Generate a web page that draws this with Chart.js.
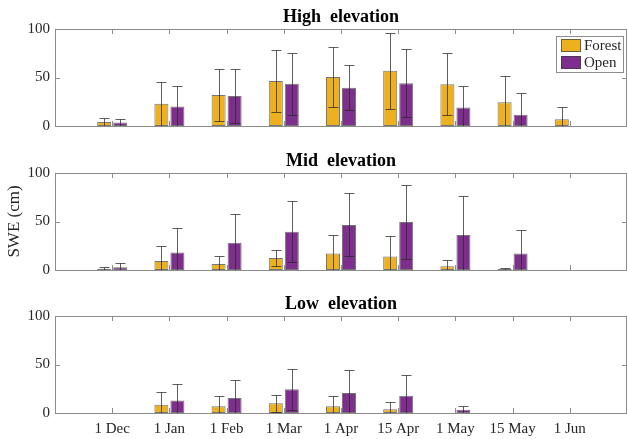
<!DOCTYPE html>
<html>
<head>
<meta charset="utf-8">
<script src="https://cdn.jsdelivr.net/npm/chart.js@4.4.0/dist/chart.umd.min.js"></script>
<style>
  body { margin: 0; background: #fff; overflow: hidden; }
  .panel { position: absolute; left: 0; width: 627px; }
</style>
</head>
<body>
<div class="panel" style="top:0;height:136px"><canvas id="high"></canvas></div>
<div class="panel" style="top:144px;height:136px"><canvas id="mid"></canvas></div>
<div class="panel" style="top:287px;height:152px"><canvas id="low"></canvas></div>

<script>
// survey dates
const dates = ["1 Dec", "1 Jan", "1 Feb", "1 Mar", "1 Apr", "15 Apr", "1 May", "15 May", "1 Jun"];
const yTicks = [0, 50, 100];

// high elevation (mean, sd)
const highForest   = [4, 23, 32, 46.5, 50.5, 57, 43, 24.5, 7];
const highForestSd = [4, 22.5, 27, 32, 31, 39, 32, 27, 13];
const highOpen     = [3.5, 20, 31, 43.5, 39.5, 44, 19, 11.5, 0];
const highOpenSd   = [3.5, 21.5, 28, 32, 23, 35, 22.5, 23, 0];

// mid elevation
const midForest   = [1.4, 9.3, 6.2, 12.4, 17, 14, 3.8, 1, 0];
const midForestSd = [1.4, 15, 8, 8.6, 19, 21, 7, 0.7, 0];
const midOpen     = [2.8, 18, 28, 39.5, 46.5, 49.5, 36, 17, 0];
const midOpenSd   = [4.4, 25, 29.7, 31.5, 32.5, 38.5, 40.7, 24.5, 0];

// low elevation
const lowForest   = [0, 8.6, 6.9, 10, 6.9, 3.8, 0, 0, 0];
const lowForestSd = [0, 13, 11, 9, 11, 8, 0, 0, 0];
const lowOpen     = [0, 12.8, 15.5, 24.5, 20.7, 17.9, 3.4, 0, 0];
const lowOpenSd   = [0, 17.2, 19, 21, 23.8, 21.7, 4.2, 0, 0];

const SERIF = '"Liberation Serif", "Times New Roman", serif';
const FOREST = "#EDB120";
const OPEN = "#7E2F8E";
const AXIS = "#8c8c8c";

// pad with an empty slot on each side so the axis runs 0..10
const pad = arr => [null, ...arr, null];

// error bars from dataset.sd
const errorBars = {
  id: "errorBars",
  afterDatasetsDraw(chart) {
    const { ctx, chartArea: a, scales: { y } } = chart;
    ctx.save();
    ctx.beginPath();
    ctx.rect(a.left, a.top, a.width, a.height);
    ctx.clip();
    ctx.strokeStyle = "rgba(40,40,40,0.75)";
    ctx.lineWidth = 1;
    chart.data.datasets.forEach((ds, i) => {
      const meta = chart.getDatasetMeta(i);
      meta.data.forEach((bar, j) => {
        const v = ds.data[j], sd = ds.sd[j];
        if (v == null || !sd) return;
        const x = Math.round(bar.x) + 0.5;
        const top = Math.round(y.getPixelForValue(v + sd)) + 0.5;
        const bot = Math.round(y.getPixelForValue(v - sd)) + 0.5;
        ctx.beginPath();
        ctx.moveTo(x, top); ctx.lineTo(x, bot);
        ctx.moveTo(x - 5, top); ctx.lineTo(x + 5, top);
        ctx.moveTo(x - 5, bot); ctx.lineTo(x + 5, bot);
        ctx.stroke();
      });
    });
    ctx.restore();
  }
};

// box around the axes with inward ticks, plus the panel title
const frame = {
  id: "frame",
  afterDraw(chart, args, opts) {
    const { ctx, chartArea: a, scales: { x, y } } = chart;
    ctx.save();
    ctx.strokeStyle = AXIS;
    ctx.lineWidth = 1;
    ctx.strokeRect(a.left + 0.5, a.top + 0.5, a.width - 1, a.height);
    ctx.beginPath();
    for (let i = 1; i <= dates.length; i++) {
      const px = Math.round(x.getPixelForValue(i)) + 0.5;
      ctx.moveTo(px, a.top); ctx.lineTo(px, a.top + 5);
      ctx.moveTo(px, a.bottom); ctx.lineTo(px, a.bottom - 5);
    }
    yTicks.forEach(t => {
      const py = Math.round(y.getPixelForValue(t)) + 0.5;
      ctx.moveTo(a.left, py); ctx.lineTo(a.left + 5, py);
      ctx.moveTo(a.right, py); ctx.lineTo(a.right - 5, py);
    });
    ctx.stroke();

    ctx.fillStyle = "#000";
    ctx.font = "bold 18px " + SERIF;
    ctx.textAlign = "center";
    ctx.textBaseline = "alphabetic";
    ctx.fillText(opts.title, (a.left + a.right) / 2, a.top - 7);
    ctx.restore();
  }
};

// boxed legend in the top-right corner
const boxLegend = {
  id: "boxLegend",
  afterDraw(chart, args, opts) {
    if (!opts.show) return;
    const { ctx, chartArea: a } = chart;
    const w = 67, h = 36;
    const lx = a.right - 4 - w, ly = a.top + 7;
    ctx.save();
    ctx.fillStyle = "#fff";
    ctx.fillRect(lx, ly, w, h);
    ctx.strokeStyle = AXIS;
    ctx.strokeRect(lx + 0.5, ly + 0.5, w, h);
    ctx.font = "15px " + SERIF;
    ctx.textBaseline = "middle";
    chart.data.datasets.forEach((ds, i) => {
      const sy = ly + 3 + i * 17;
      ctx.fillStyle = ds.backgroundColor;
      ctx.fillRect(lx + 5, sy, 20, 13);
      ctx.strokeStyle = "rgba(60,60,60,0.7)";
      ctx.strokeRect(lx + 5.5, sy + 0.5, 19, 12);
      ctx.fillStyle = "#262626";
      ctx.fillText(ds.label, lx + 28, sy + 7);
    });
    ctx.restore();
  }
};

function makePanel(id, title, forest, forestSd, open, openSd, opt) {
  new Chart(document.getElementById(id), {
    type: "bar",
    data: {
      labels: pad(dates).map(d => d || ""),
      datasets: [
        { label: "Forest", data: pad(forest), sd: pad(forestSd), backgroundColor: FOREST },
        { label: "Open", data: pad(open), sd: pad(openSd), backgroundColor: OPEN }
      ]
    },
    options: {
      responsive: true,
      maintainAspectRatio: false,
      animation: false,
      devicePixelRatio: 1,
      layout: { padding: { left: 0, right: 0, top: 29, bottom: opt.xLabels ? 0 : 10 } },
      datasets: {
        bar: {
          categoryPercentage: 0.56,
          barPercentage: 0.875,
          borderColor: "rgba(60,60,60,0.7)",
          borderWidth: 1,
          borderSkipped: false
        }
      },
      plugins: {
        legend: { display: false },
        tooltip: { enabled: false },
        title: { display: false },
        frame: { title: title },
        boxLegend: { show: !!opt.legend }
      },
      scales: {
        x: {
          type: "category",
          offset: false,
          display: !!opt.xLabels,
          afterFit: s => {
            s.paddingLeft = 0;
            s.paddingRight = 0;
            if (opt.xLabels) s.height = 26;
          },
          grid: { display: false, drawTicks: false },
          border: { display: false },
          ticks: {
            autoSkip: false,
            maxRotation: 0,
            padding: 7,
            color: "#262626",
            font: { family: SERIF, size: 15 }
          }
        },
        y: {
          min: 0,
          max: 100,
          afterFit: s => { s.width = 55; s.paddingTop = 0; s.paddingBottom = 0; },
          afterBuildTicks: s => { s.ticks = yTicks.map(v => ({ value: v })); },
          grid: { display: false, drawTicks: false },
          border: { display: false },
          ticks: {
            padding: 5,
            color: "#262626",
            font: { family: SERIF, size: 15 }
          },
          title: {
            display: !!opt.yTitle,
            text: "SWE (cm)",
            color: "#262626",
            font: { family: SERIF, size: 17 },
            padding: { top: 4, bottom: 4 }
          }
        }
      }
    },
    plugins: [errorBars, frame, boxLegend]
  });
}

makePanel("high", "High  elevation", highForest, highForestSd, highOpen, highOpenSd, { legend: true });
makePanel("mid", "Mid  elevation", midForest, midForestSd, midOpen, midOpenSd, { yTitle: true });
makePanel("low", "Low  elevation", lowForest, lowForestSd, lowOpen, lowOpenSd, { xLabels: true });
</script>
</body>
</html>
